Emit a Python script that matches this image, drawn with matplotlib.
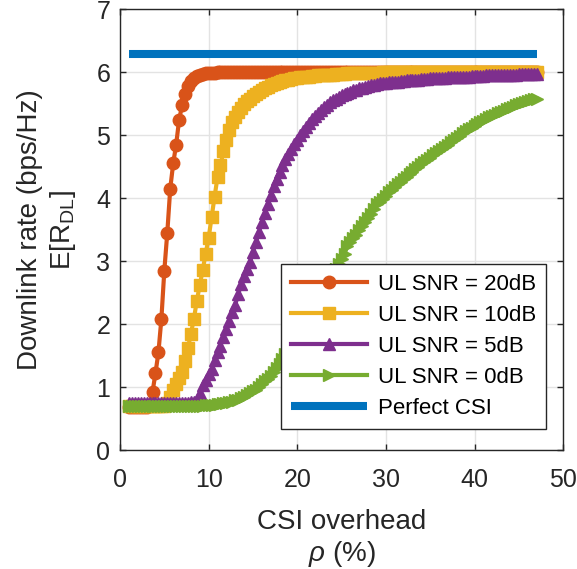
import numpy as np
import matplotlib
matplotlib.use('Agg')
import matplotlib.pyplot as plt

plt.rcParams['font.family'] = ['Liberation Sans', 'DejaVu Sans']
plt.rcParams['mathtext.fontset'] = 'custom'
plt.rcParams['mathtext.rm'] = 'Liberation Sans'
plt.rcParams['mathtext.it'] = 'Liberation Sans:italic'

# CSI overhead grid (%), sampled every 1/3 %
rho = np.arange(139) / 3 + 1

snr20 = [0.68, 0.68, 0.68, 0.68, 0.68, 0.68, 0.69, 0.72, 0.92, 1.22, 1.55, 2.08, 2.85, 3.45, 4.15,
         4.55, 4.85, 5.24, 5.47, 5.66, 5.78, 5.86, 5.91, 5.94, 5.96, 5.97, 5.98, 5.99, 5.99, 5.99,
         6.00, 6.00, 6.00, 6.00, 6.00, 6.00, 6.00, 6.00, 6.00, 6.00, 6.00, 6.00, 6.00, 6.00, 6.00,
         6.00, 6.00, 6.00, 6.00, 6.00, 6.00, 6.00, 6.00, 6.00, 6.00, 6.00, 6.00, 6.00, 6.00, 6.00,
         6.00, 6.00, 6.00, 6.00, 6.00, 6.00, 6.00, 6.00, 6.00, 6.00, 6.00, 6.00, 6.00, 6.00, 6.00,
         6.00, 6.00, 6.00, 6.00, 6.00, 6.00, 6.00, 6.00, 6.00, 6.00, 6.00, 6.00, 6.00, 6.00, 6.00,
         6.00, 6.00, 6.00, 6.00, 6.00, 6.00, 6.00, 6.00, 6.00, 6.00, 6.00, 6.00, 6.00, 6.00, 6.00,
         6.00, 6.00, 6.00, 6.00, 6.00, 6.00, 6.00, 6.00, 6.00, 6.00, 6.00, 6.00, 6.00, 6.00, 6.00,
         6.00, 6.00, 6.00, 6.00, 6.00, 6.00, 6.00, 6.00, 6.00, 6.00, 6.00, 6.00, 6.00, 6.00, 6.00,
         6.00, 6.00, 6.00, 6.00]

snr10 = [0.70, 0.70, 0.70, 0.70, 0.70, 0.70, 0.70, 0.70, 0.70, 0.70, 0.70, 0.70, 0.70, 0.74, 0.84,
         0.95, 1.05, 1.14, 1.24, 1.42, 1.62, 1.85, 2.08, 2.37, 2.62, 2.86, 3.12, 3.37, 3.70, 4.02,
         4.33, 4.52, 4.74, 4.93, 5.08, 5.20, 5.29, 5.36, 5.43, 5.49, 5.54, 5.58, 5.62, 5.66, 5.69,
         5.72, 5.74, 5.77, 5.79, 5.81, 5.83, 5.85, 5.86, 5.87, 5.88, 5.89, 5.90, 5.91, 5.92, 5.92,
         5.93, 5.93, 5.94, 5.94, 5.95, 5.95, 5.95, 5.96, 5.96, 5.96, 5.97, 5.97, 5.97, 5.97, 5.98,
         5.98, 5.98, 5.98, 5.98, 5.99, 5.99, 5.99, 5.99, 5.99, 5.99, 5.99, 6.00, 6.00, 6.00, 6.00,
         6.00, 6.00, 6.00, 6.00, 6.00, 6.00, 6.00, 6.00, 6.00, 6.00, 6.00, 6.00, 6.00, 6.00, 6.00,
         6.00, 6.00, 6.00, 6.00, 6.00, 6.00, 6.00, 6.00, 6.00, 6.00, 6.00, 6.00, 6.00, 6.00, 6.00,
         6.00, 6.00, 6.00, 6.00, 6.00, 6.00, 6.00, 6.00, 6.00, 6.00, 6.00, 6.00, 6.00, 6.00, 6.00,
         6.00, 6.00, 6.00, 6.00]

snr5 = [0.75, 0.75, 0.75, 0.75, 0.75, 0.75, 0.75, 0.75, 0.75, 0.75, 0.75, 0.75, 0.75, 0.75, 0.75,
        0.75, 0.75, 0.75, 0.75, 0.75, 0.75, 0.76, 0.76, 0.80, 0.90, 1.03, 1.12, 1.20, 1.28, 1.43,
        1.55, 1.66, 1.79, 1.92, 2.05, 2.19, 2.31, 2.47, 2.64, 2.77, 2.88, 2.99, 3.15, 3.30, 3.46,
        3.62, 3.76, 3.90, 4.05, 4.19, 4.31, 4.42, 4.52, 4.62, 4.70, 4.78, 4.86, 4.93, 5.00, 5.06,
        5.13, 5.19, 5.25, 5.30, 5.35, 5.40, 5.44, 5.48, 5.52, 5.55, 5.58, 5.61, 5.63, 5.65, 5.67,
        5.69, 5.71, 5.72, 5.74, 5.75, 5.76, 5.78, 5.79, 5.80, 5.81, 5.82, 5.82, 5.83, 5.84, 5.84,
        5.85, 5.85, 5.86, 5.86, 5.87, 5.87, 5.88, 5.88, 5.88, 5.89, 5.89, 5.89, 5.90, 5.90, 5.90,
        5.91, 5.91, 5.91, 5.92, 5.92, 5.92, 5.92, 5.93, 5.93, 5.93, 5.93, 5.94, 5.94, 5.94, 5.94,
        5.94, 5.95, 5.95, 5.95, 5.95, 5.95, 5.96, 5.96, 5.96, 5.96, 5.96, 5.96, 5.97, 5.97, 5.97,
        5.97, 5.97, 5.97, 5.97]

snr0 = [0.70, 0.70, 0.70, 0.70, 0.70, 0.70, 0.70, 0.70, 0.70, 0.70, 0.70, 0.70, 0.70, 0.70, 0.70,
        0.70, 0.70, 0.70, 0.70, 0.70, 0.70, 0.70, 0.70, 0.70, 0.70, 0.70, 0.71, 0.71, 0.72, 0.72,
        0.73, 0.73, 0.74, 0.75, 0.76, 0.77, 0.79, 0.80, 0.82, 0.84, 0.87, 0.90, 0.93, 0.96, 1.00,
        1.05, 1.09, 1.13, 1.18, 1.24, 1.30, 1.37, 1.45, 1.53, 1.61, 1.69, 1.77, 1.85, 1.93, 2.01,
        2.09, 2.17, 2.25, 2.33, 2.41, 2.49, 2.57, 2.65, 2.73, 2.80, 2.87, 2.95, 3.03, 3.12, 3.24,
        3.30, 3.36, 3.42, 3.49, 3.55, 3.62, 3.69, 3.75, 3.82, 3.90, 3.94, 3.99, 4.04, 4.09, 4.13,
        4.18, 4.22, 4.26, 4.30, 4.34, 4.38, 4.42, 4.46, 4.50, 4.54, 4.57, 4.61, 4.64, 4.68, 4.71,
        4.74, 4.78, 4.81, 4.85, 4.89, 4.92, 4.96, 4.99, 5.03, 5.06, 5.09, 5.12, 5.15, 5.18, 5.20,
        5.23, 5.25, 5.28, 5.30, 5.32, 5.35, 5.37, 5.39, 5.41, 5.43, 5.45, 5.47, 5.49, 5.51, 5.52,
        5.54, 5.55, 5.57, 5.58]

perfect_x = [1, 47]
perfect_y = [6.28, 6.28]

labels = ['UL SNR = 20dB', 'UL SNR = 10dB', 'UL SNR = 5dB', 'UL SNR = 0dB', 'Perfect CSI']
colors = ['#D95319', '#EDB120', '#7E2F8E', '#77AC30', '#0072BD']
markers = ['o', 's', '^', '>']
msizes = [9, 8, 8.5, 8.5]

fig = plt.figure(figsize=(5.77, 5.69), dpi=100)
ax = fig.add_axes([0.208, 0.209, 0.768, 0.775])

for ys, c, m, ms, lab in zip([snr20, snr10, snr5, snr0], colors, markers, msizes, labels):
    ax.plot(rho, ys, color=c, marker=m, markersize=ms, linewidth=3, label=lab)
ax.plot(perfect_x, perfect_y, color=colors[4], linewidth=5.8, solid_capstyle='butt', label=labels[4])

ax.set_xlim(0, 50)
ax.set_ylim(0, 7)
ax.set_xticks(range(0, 51, 10))
ax.set_yticks(range(0, 8))
ax.grid(True, color='#e3e3e3', linewidth=1.0)
ax.set_axisbelow(True)
ax.tick_params(direction='in', top=True, right=True, length=4, width=1.0,
               labelsize=18, colors='#262626')
ax.tick_params(axis='x', pad=13)
ax.tick_params(axis='y', pad=7)
for s in ax.spines.values():
    s.set_color('#262626')
    s.set_linewidth(1.0)

ax.set_xlabel('CSI overhead\n$\\rho$ (%)', fontsize=20, color='#262626', linespacing=1.2, labelpad=12)
ax.set_ylabel('Downlink rate (bps/Hz)\nE[R$_{\\rm DL}$]', fontsize=20, color='#262626', linespacing=1.25, labelpad=13)

leg = ax.legend(loc='lower right', bbox_to_anchor=(0.962, 0.048), borderaxespad=0, fontsize=16,
                numpoints=1, handlelength=3.4, labelspacing=0.45, handletextpad=0.5, borderpad=0.45,
                fancybox=False, framealpha=1, edgecolor='#262626')
leg.get_frame().set_linewidth(1.0)

fig.savefig('out.png', dpi=100)
